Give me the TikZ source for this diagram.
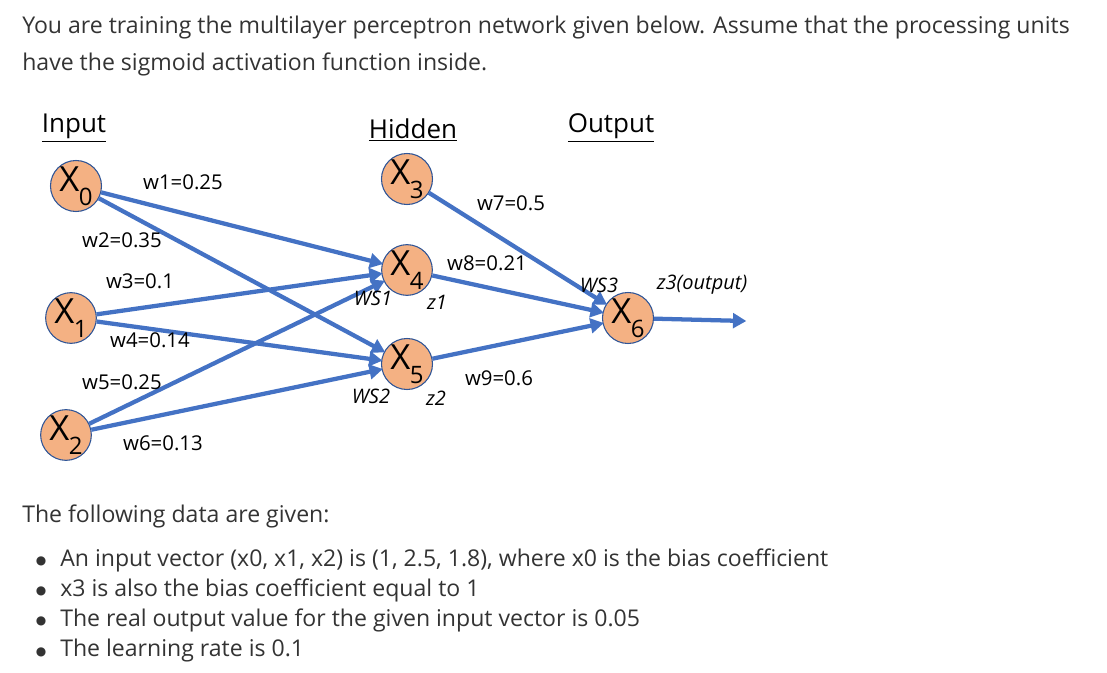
\documentclass[tikz,border=0pt]{standalone}
\usepackage{fontspec}
\setmainfont{Open Sans}
\newfontfamily\dejafont{DejaVu Sans}
\usetikzlibrary{arrows.meta}
\definecolor{edgeblue}{HTML}{4472C4}
\definecolor{nodefill}{HTML}{F4B183}
\definecolor{nodeline}{HTML}{2F5597}
\definecolor{txt}{HTML}{333333}
\newcommand\nsub[1]{\kern-0.5pt\raisebox{-0.4em}{\fontsize{18}{18}\selectfont #1}}
\begin{document}
\begin{tikzpicture}[x=0.75pt,y=-0.75pt,
  unit/.style={circle,draw=nodeline,line width=0.8pt,fill=nodefill,minimum size=36pt,inner sep=0pt,font=\fontsize{26}{26}\selectfont},
  edge/.style={draw=edgeblue,line width=3.2pt,-{Triangle[length=10pt,width=11pt]},shorten >=-1pt},
  wlab/.style={font=\fontsize{15.3}{15.3}\selectfont,inner sep=0pt},
  ilab/.style={font=\itshape\fontsize{15}{15}\selectfont,inner sep=0pt},
  head/.style={font=\fontsize{19.5}{19.5}\selectfont,inner sep=0pt},
  para/.style={font=\fontsize{17.3}{17.3}\selectfont,text=txt,inner sep=0pt,anchor=west},
  dot/.style={font=\dejafont\fontsize{9}{9}\selectfont,text=txt,inner sep=0pt}]
\useasboundingbox (0,0) rectangle (1107,673);
% top text
\node[para] (t1) at (22,28) {You are training the multilayer perceptron network given below. Assume that the processing units};
\node[para] (t2) at (22,64) {have the sigmoid activation function inside.};
% headers
\node[head] (hin) at (74,128) {\underline{Input}};
\node[head] (hhid) at (413,130) {\underline{Hidden}};
\node[head] (hout) at (611,128) {\underline{Output}};
% units
\node[unit] (x0) at (76,186) {X\nsub{0}};
\node[unit] (x1) at (71,318) {X\nsub{1}};
\node[unit] (x2) at (66,435) {X\nsub{2}};
\node[unit] (x3) at (407,179) {X\nsub{3}};
\node[unit] (x4) at (407,270) {X\nsub{4}};
\node[unit] (x5) at (407,364) {X\nsub{5}};
\node[unit] (x6) at (628,318) {X\nsub{6}};
\coordinate (out) at (745,321);
% connectors
\draw[edge] (x0) -- (x4);
\draw[edge] (x0) -- (x5);
\draw[edge] (x1) -- (x4);
\draw[edge] (x1) -- (x5);
\draw[edge] (x2) -- (x4);
\draw[edge] (x2) -- (x5);
\draw[edge] (x3) -- (x6);
\draw[edge] (x4) -- (x6);
\draw[edge] (x5) -- (x6);
\draw[edge] (x6) -- (out);
% weight labels
\node[wlab] (w1) at (183,182) {w1=0.25};
\node[wlab] (w2) at (122,240) {w2=0.35};
\node[wlab] (w3) at (140,281) {w3=0.1};
\node[wlab] (w4) at (150,340) {w4=0.14};
\node[wlab] (w5) at (122,382) {w5=0.25};
\node[wlab] (w6) at (163,443) {w6=0.13};
\node[wlab] (w7) at (511,203) {w7=0.5};
\node[wlab] (w8) at (487,263) {w8=0.21};
\node[wlab] (w9) at (499,378) {w9=0.6};
\node[ilab] (ws1) at (373,298) {WS1};
\node[ilab] (z1) at (437,302) {z1};
\node[ilab] (ws2) at (371,396) {WS2};
\node[ilab] (z2) at (436,398) {z2};
\node[ilab] (ws3) at (599,285) {WS3};
\node[ilab] (z3) at (702,285) {z3(output)};
% bottom text
\node[para] (b0) at (22,516) {The following data are given:};
\node[dot] (d1) at (41,561) {●};
\node[para] (b1) at (60,560) {An input vector (x0, x1, x2) is (1, 2.5, 1.8), where x0 is the bias coefficient};
\node[dot] (d2) at (41,591) {●};
\node[para] (b2) at (60,590) {x3 is also the bias coefficient equal to 1};
\node[dot] (d3) at (41,621) {●};
\node[para] (b3) at (60,620) {The real output value for the given input vector is 0.05};
\node[dot] (d4) at (41,652) {●};
\node[para] (b4) at (60,651) {The learning rate is 0.1};
\end{tikzpicture}
\end{document}
